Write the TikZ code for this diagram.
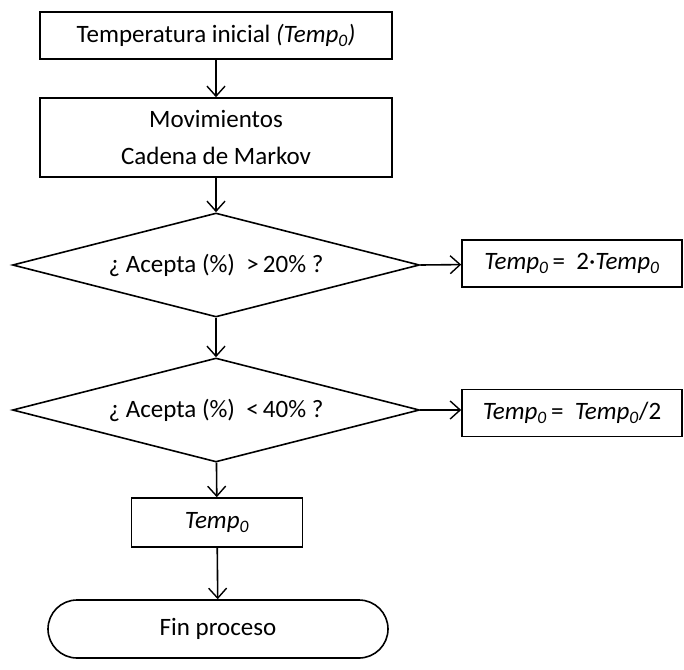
\documentclass[tikz,border=0pt]{standalone}
\usepackage{fontspec}
\setmainfont{Carlito}
\usetikzlibrary{arrows.meta,shapes.geometric}
\tikzset{
  caja/.style={draw, line width=1.6pt, minimum height=47pt, inner sep=0pt, align=center},
  rombo/.style={draw, diamond, shape aspect=3.91, line width=1.6pt, minimum width=407pt, minimum height=104pt, inner sep=0pt},
  fin/.style={draw, line width=1.6pt, rounded corners=29pt, minimum width=340pt, minimum height=58pt},
  flecha/.style={line width=1.6pt, -{Straight Barb[length=10pt,width=18pt,line width=1.4pt]}}
}
\newcommand{\tz}{\textit{Temp}\textsubscript{\textit{0}}}
\begin{document}
\begin{tikzpicture}[x=1pt,y=-1pt,font=\fontsize{25pt}{37pt}\selectfont]
\useasboundingbox (0,0) rectangle (684,669);
\node[caja, minimum width=352pt] (tini) at (216,35.5) {Temperatura inicial \textit{(Temp\textsubscript{0})}};
\node[caja, minimum width=352pt, minimum height=79pt] (mov) at (216,137.5) {Movimientos\\Cadena de Markov};
\node[rombo] (acep1) at (216,265) {¿ Acepta (\%)\ \ >\,20\% ?};
\node[caja, minimum width=220pt] (doble) at (572,263.5) {\tz\,=\ \ 2\textperiodcentered\tz};
\node[rombo] (acep2) at (216,410) {¿ Acepta (\%)\ \ <\,40\% ?};
\node[caja, minimum width=220pt] (mitad) at (572,413) {\tz\,=\ \ \tz/2};
\node[caja, minimum width=171pt, minimum height=49pt] (tfin) at (217,522.5) {\tz};
\node[fin] (fin) at (218,629) {Fin proceso};
\draw[flecha] (tini) -- (mov);
\draw[flecha] (mov) -- (acep1);
\draw[flecha] (acep1.east) -- (doble);
\draw[flecha] (acep1) -- (acep2);
\draw[flecha] (acep2.east) -- (mitad.west |- acep2.east);
\draw[flecha] (acep2) -- (tfin);
\draw[flecha] (tfin) -- (fin);
\end{tikzpicture}
\end{document}
